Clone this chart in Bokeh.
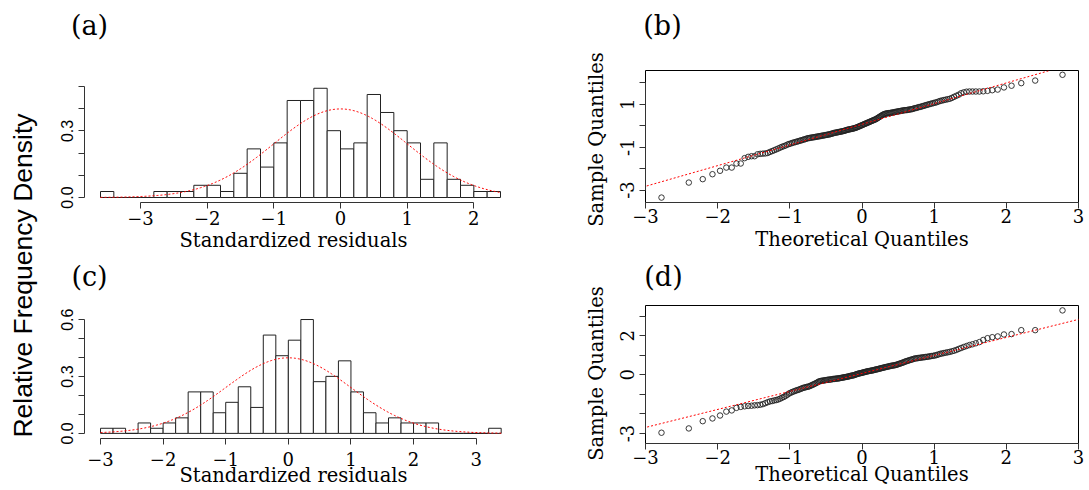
import math
from statistics import NormalDist
from bokeh.plotting import figure
from bokeh.layouts import row, column
from bokeh.models import FixedTicker, Range1d, Label, Slope, LinearAxis
from bokeh.embed import file_html
from bokeh.resources import INLINE

# ---------------- data ----------------
edges_a = [-3.6, -3.4, -3.2, -3.0, -2.8, -2.6, -2.4, -2.2, -2.0, -1.8, -1.6, -1.4, -1.2, -1.0, -0.8,
           -0.6, -0.4, -0.2, 0.0, 0.2, 0.4, 0.6, 0.8, 1.0, 1.2, 1.4, 1.6, 1.8, 2.0, 2.2, 2.4]
dens_a = [0.027, 0.0, 0.0, 0.0, 0.027, 0.027, 0.027, 0.055, 0.055, 0.027, 0.109, 0.219, 0.137, 0.246, 0.437,
          0.437, 0.492, 0.301, 0.219, 0.246, 0.464, 0.383, 0.301, 0.246, 0.082, 0.246, 0.082, 0.055, 0.027, 0.027]

edges_c = [-3.0, -2.8, -2.6, -2.4, -2.2, -2.0, -1.8, -1.6, -1.4, -1.2, -1.0, -0.8, -0.6, -0.4, -0.2, 0.0,
           0.2, 0.4, 0.6, 0.8, 1.0, 1.2, 1.4, 1.6, 1.8, 2.0, 2.2, 2.4, 2.6, 2.8, 3.0, 3.2, 3.4]
dens_c = [0.027, 0.027, 0.0, 0.055, 0.027, 0.055, 0.082, 0.219, 0.219, 0.109, 0.164, 0.246, 0.137, 0.519, 0.410, 0.492,
          0.601, 0.273, 0.301, 0.383, 0.219, 0.109, 0.055, 0.082, 0.055, 0.055, 0.055, 0.0, 0.0, 0.0, 0.0, 0.027]

# sorted sample quantiles (standardized residuals), panel (b)
qq_b = [-3.35, -2.65, -2.49, -2.26, -2.10, -1.95, -1.95, -1.76, -1.76, -1.51,
        -1.45, -1.42, -1.42, -1.33, -1.31, -1.30, -1.29, -1.27, -1.22, -1.18,
        -1.14, -1.10, -1.06, -1.02, -0.98, -0.95, -0.92, -0.88, -0.85, -0.83,
        -0.80, -0.78, -0.76, -0.74, -0.72, -0.70, -0.68, -0.66, -0.64, -0.62,
        -0.60, -0.58, -0.57, -0.56, -0.55, -0.54, -0.53, -0.52, -0.51, -0.50,
        -0.49, -0.48, -0.47, -0.46, -0.45, -0.44, -0.43, -0.42, -0.41, -0.40,
        -0.39, -0.37, -0.36, -0.34, -0.33, -0.32, -0.31, -0.30, -0.29, -0.28,
        -0.27, -0.26, -0.25, -0.24, -0.22, -0.21, -0.19, -0.18, -0.17, -0.16,
        -0.15, -0.14, -0.13, -0.12, -0.10, -0.09, -0.07, -0.05, -0.03, -0.01,
        0.01, 0.03, 0.05, 0.07, 0.09, 0.11, 0.13, 0.15, 0.17, 0.19,
        0.21, 0.23, 0.25, 0.27, 0.29, 0.31, 0.34, 0.37, 0.40, 0.43,
        0.46, 0.49, 0.52, 0.54, 0.56, 0.57, 0.58, 0.59, 0.59, 0.60,
        0.61, 0.62, 0.63, 0.64, 0.65, 0.66, 0.67, 0.68, 0.69, 0.70,
        0.71, 0.72, 0.73, 0.73, 0.74, 0.75, 0.76, 0.77, 0.78, 0.80,
        0.82, 0.83, 0.85, 0.87, 0.88, 0.90, 0.92, 0.94, 0.96, 0.98,
        1.00, 1.02, 1.04, 1.06, 1.08, 1.10, 1.13, 1.16, 1.18, 1.20,
        1.22, 1.24, 1.26, 1.30, 1.35, 1.40, 1.45, 1.52, 1.56, 1.59,
        1.60, 1.60, 1.60, 1.60, 1.61, 1.63, 1.66, 1.69, 1.79, 1.87,
        1.99, 2.11, 2.38]

# sorted sample quantiles, panel (d)
qq_d = [-2.96, -2.74, -2.37, -2.23, -2.08, -1.88, -1.82, -1.69, -1.64, -1.61,
        -1.59, -1.58, -1.56, -1.55, -1.53, -1.50, -1.45, -1.40, -1.36, -1.34,
        -1.31, -1.29, -1.26, -1.22, -1.17, -1.13, -1.08, -1.02, -0.96, -0.92,
        -0.88, -0.85, -0.82, -0.79, -0.77, -0.74, -0.71, -0.68, -0.66, -0.64,
        -0.62, -0.61, -0.59, -0.56, -0.53, -0.50, -0.47, -0.44, -0.41, -0.37,
        -0.34, -0.32, -0.31, -0.30, -0.29, -0.28, -0.27, -0.26, -0.25, -0.25,
        -0.24, -0.23, -0.22, -0.21, -0.21, -0.20, -0.19, -0.19, -0.18, -0.17,
        -0.16, -0.15, -0.14, -0.13, -0.12, -0.11, -0.10, -0.09, -0.08, -0.06,
        -0.05, -0.04, -0.03, -0.02, 0.00, 0.02, 0.04, 0.05, 0.07, 0.08,
        0.09, 0.10, 0.12, 0.13, 0.14, 0.16, 0.17, 0.18, 0.19, 0.20,
        0.21, 0.22, 0.23, 0.24, 0.26, 0.27, 0.28, 0.29, 0.31, 0.32,
        0.33, 0.35, 0.36, 0.37, 0.39, 0.40, 0.41, 0.42, 0.44, 0.45,
        0.46, 0.47, 0.48, 0.49, 0.50, 0.52, 0.54, 0.56, 0.58, 0.60,
        0.62, 0.64, 0.67, 0.69, 0.71, 0.73, 0.75, 0.77, 0.79, 0.81,
        0.83, 0.84, 0.85, 0.86, 0.87, 0.88, 0.89, 0.90, 0.91, 0.92,
        0.93, 0.95, 0.96, 0.97, 0.99, 1.01, 1.04, 1.07, 1.09, 1.11,
        1.13, 1.15, 1.17, 1.20, 1.23, 1.27, 1.32, 1.37, 1.42, 1.47,
        1.52, 1.56, 1.61, 1.67, 1.78, 1.87, 1.92, 1.96, 2.06, 2.08,
        2.28, 2.28, 3.29]

qqline_b = {"intercept": 0.07, "slope": 0.965}
qqline_d = {"intercept": 0.07, "slope": 0.92}

hist_xticks_a = [-3, -2, -1, 0, 1, 2]
hist_xticks_c = [-3, -2, -1, 0, 1, 2, 3]
hist_yticks_a = [0.0, 0.1, 0.2, 0.3, 0.4, 0.5]
hist_yticks_c = [0.0, 0.1, 0.2, 0.3, 0.4, 0.5, 0.6]
hist_ylabels_a = {0.0: "0.0", 0.3: "0.3"}
hist_ylabels_c = {0.0: "0.0", 0.3: "0.3", 0.6: "0.6"}
qq_xticks = [-3, -2, -1, 0, 1, 2, 3]
qq_yticks_b = [-3, -2, -1, 0, 1, 2]
qq_ylabels_b = {-3: "-3", -1: "-1", 1: "1"}
qq_yticks_d = [-3, -2, -1, 0, 1, 2, 3]
qq_ylabels_d = {-3: "-3", 0: "0", 2: "2"}

SERIF = "DejaVu Serif"
SANS = "Liberation Sans"
TICK_SZ = "18px"
LAB_SZ = "19.5px"
PANEL_SZ = "27px"

HIST_L, HIST_R, HIST_W = 39, 43, 500
QQ_L, QQ_R, QQ_W = 35, 11, 479


def text_strip(w, h, x, y, text, font, size, angle=0.0):
    """A plain figure used only to hold one piece of text (panel tags, axis titles)."""
    s = figure(width=w, height=h, x_range=Range1d(0, w), y_range=Range1d(0, h),
               output_backend="svg", toolbar_location=None, x_axis_location=None,
               y_axis_location=None, min_border=0, frame_align=False)
    s.grid.visible = False
    s.outline_line_color = None
    s.add_layout(Label(x=x, y=y, text=text, text_font=font, text_font_size=size,
                       text_align="center", text_baseline="middle", angle=angle,
                       text_color="black"))
    return s


def base_fig(w, h, xr, yr, left, right, top, bottom, outline):
    p = figure(width=w, height=h, x_range=Range1d(*xr), y_range=Range1d(*yr),
               output_backend="svg", toolbar_location=None, x_axis_location=None,
               y_axis_location=None, min_border_left=left, min_border_right=right,
               min_border_top=top, min_border_bottom=bottom, frame_align=False)
    p.grid.visible = False
    p.background_fill_color = "white"
    p.border_fill_color = "white"
    if outline:
        p.outline_line_color = "black"
        p.outline_line_width = 1
    else:
        p.outline_line_color = None
    return p


def style_axis(ax, ticks, overrides, font, size, bounds, vertical=False, standoff=3,
               label=None, label_standoff=0):
    ax.ticker = FixedTicker(ticks=ticks)
    ax.bounds = bounds
    ax.major_tick_out = 6
    ax.major_tick_in = 0
    ax.minor_tick_out = 0
    ax.minor_tick_in = 0
    ax.axis_line_color = "#333333"
    ax.major_tick_line_color = "#333333"
    ax.major_label_text_font = font
    ax.major_label_text_font_size = size
    ax.major_label_text_color = "black"
    ax.major_label_standoff = standoff
    if overrides is not None:
        ax.major_label_overrides = {k: overrides.get(k, "") for k in ticks}
    if vertical:
        ax.major_label_orientation = "vertical"
    if label is not None:
        ax.axis_label = label
        ax.axis_label_text_font = SERIF
        ax.axis_label_text_font_size = LAB_SZ
        ax.axis_label_text_font_style = "normal"
        ax.axis_label_text_color = "black"
        ax.axis_label_standoff = label_standoff


def hist_panel(edges, dens, xticks, yticks, ylabels, xr, yr, top, bottom, h,
               tick_standoff, lab_standoff):
    p = base_fig(HIST_W, h, xr, yr, HIST_L, HIST_R, top, bottom, False)
    p.quad(left=edges[:-1], right=edges[1:], bottom=0, top=dens,
           fill_color="white", line_color="#222222", line_width=1)
    xs = [edges[0] + (edges[-1] - edges[0]) * k / 300.0 for k in range(301)]
    ys = [math.exp(-0.5 * v * v) / math.sqrt(2 * math.pi) for v in xs]
    p.line(xs, ys, line_color="red", line_dash="2 2", line_width=1)
    xa = LinearAxis()
    style_axis(xa, xticks, None, SERIF, TICK_SZ, (xticks[0], xticks[-1]), standoff=tick_standoff,
               label="Standardized residuals", label_standoff=lab_standoff)
    p.add_layout(xa, "below")
    ya = LinearAxis()
    style_axis(ya, yticks, ylabels, SANS, "16px", (yticks[0], yticks[-1]), vertical=True, standoff=5)
    p.add_layout(ya, "left")
    return p


def qq_panel(sample, line, yticks, ylabels, yr, top, bottom, h, tick_standoff, lab_standoff):
    n = len(sample)
    nd = NormalDist()
    theo = [nd.inv_cdf((i + 0.5) / n) for i in range(n)]
    p = base_fig(QQ_W, h, (-3, 3), yr, QQ_L, QQ_R, top, bottom, True)
    p.add_layout(Slope(gradient=line["slope"], y_intercept=line["intercept"],
                       line_color="red", line_dash="2 2", line_width=1))
    p.scatter(theo, sample, marker="circle", size=5.5, fill_color=None,
              line_color="#222222", line_width=0.9)
    xa = LinearAxis()
    style_axis(xa, qq_xticks, None, SERIF, TICK_SZ, (-3, 3), standoff=tick_standoff,
               label="Theoretical Quantiles", label_standoff=lab_standoff)
    p.add_layout(xa, "below")
    ya = LinearAxis()
    style_axis(ya, yticks, ylabels, SERIF, TICK_SZ, (yticks[0], yticks[-1]), vertical=True,
               standoff=5)
    p.add_layout(ya, "left")
    return p


TOP_H = 256
BOT_H = 234
TAG_H = 40

# left column: histograms
tag_a = text_strip(HIST_W, TAG_H, 44, 15, "(a)", SERIF, PANEL_SZ)
pa = hist_panel(edges_a, dens_a, hist_xticks_a, hist_yticks_a, hist_ylabels_a,
                (-3.84, 2.43), (-0.0225, 0.509), 44, 54, TOP_H - TAG_H, 2, 1)
tag_c = text_strip(HIST_W, TAG_H, 44, 20, "(c)", SERIF, PANEL_SZ)
pc = hist_panel(edges_c, dens_c, hist_xticks_c, hist_yticks_c, hist_ylabels_c,
                (-3.256, 3.421), (-0.027, 0.617), 20, 52, BOT_H - TAG_H, 7, -5)

# right column: QQ plots
ylab_b = text_strip(65, TOP_H, 51, 117, "Sample Quantiles", SERIF, LAB_SZ, angle=math.pi / 2)
tag_b = text_strip(QQ_W, TAG_H, 52, 15, "(b)", SERIF, PANEL_SZ)
pb = qq_panel(qq_b, qqline_b, qq_yticks_b, qq_ylabels_b, (-3.58, 2.58), 30, 54, TOP_H - TAG_H, 0, 2)

ylab_d = text_strip(65, BOT_H, 51, 117, "Sample Quantiles", SERIF, LAB_SZ, angle=math.pi / 2)
tag_d = text_strip(QQ_W, TAG_H, 53, 20, "(d)", SERIF, PANEL_SZ)
pd_ = qq_panel(qq_d, qqline_d, qq_yticks_d, qq_ylabels_d, (-3.51, 3.54), 9, 47, BOT_H - TAG_H, 0, -4)

# shared y-axis title for the histograms
pl = text_strip(45, 490, 22, 490 - 275, "Relative Frequency Density", SANS, "26.5px", angle=math.pi / 2)

left_col = column(tag_a, pa, tag_c, pc)
right_col = column(row(ylab_b, column(tag_b, pb)), row(ylab_d, column(tag_d, pd_)))
layout = row(pl, left_col, right_col)
open("out.html", "w").write(file_html(layout, INLINE))
